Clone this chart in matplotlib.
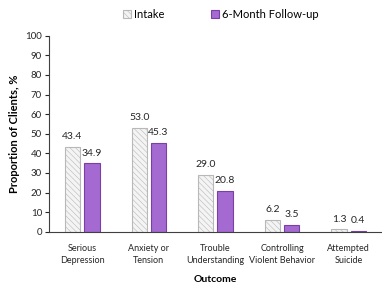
import matplotlib
matplotlib.use("Agg")
import matplotlib.pyplot as plt
import numpy as np
from matplotlib.patches import Patch

plt.rcParams['font.family'] = ['Lato', 'DejaVu Sans']
plt.rcParams['hatch.linewidth'] = 0.4
plt.rcParams['hatch.color'] = '#b0b0b0'

categories = ["Serious\nDepression", "Anxiety or\nTension", "Trouble\nUnderstanding",
              "Controlling\nViolent Behavior", "Attempted\nSuicide"]
intake = [43.4, 53.0, 29.0, 6.2, 1.3]
followup = [34.9, 45.3, 20.8, 3.5, 0.4]
series_names = ["Intake", "6-Month Follow-up"]
yticks = list(range(0, 101, 10))

fig = plt.figure(figsize=(3.82, 2.84), dpi=100)
ax = fig.add_axes([0.128, 0.184, 0.872, 0.69])

x = np.arange(len(categories))
w = 0.23
off = 0.145
b1 = ax.bar(x - off, intake, w, color='#f4f4f4', edgecolor='#b8b8b8', hatch='\\\\\\\\\\\\', linewidth=0.8)
b2 = ax.bar(x + off, followup, w, color='#a56ad2', edgecolor='#7a3fa5', linewidth=0.8)

for bars, vals in ((b1, intake), (b2, followup)):
    for r, v in zip(bars, vals):
        ax.annotate(f"{v:.1f}", (r.get_x() + r.get_width() / 2, r.get_height()),
                    xytext=(0, 4), textcoords='offset points', ha='center', va='bottom',
                    fontsize=7.5, color='#262626')

ax.set_xlim(-0.5, 4.5)
ax.set_ylim(0, 100)
ax.set_yticks(yticks)
ax.set_xticks(x)
ax.set_xticklabels(categories, fontsize=6.5, color='#262626', linespacing=1.4)
ax.tick_params(axis='x', length=0, pad=9)
ax.tick_params(axis='y', length=3, width=0.8, direction='out', labelsize=7, colors='#262626', pad=2)
for s in ['top', 'right']:
    ax.spines[s].set_visible(False)
ax.spines['left'].set_color('#404040')
ax.spines['bottom'].set_color('#404040')
ax.spines['left'].set_linewidth(0.8)
ax.spines['bottom'].set_linewidth(0.8)

ax.set_ylabel("Proportion of Clients, %", fontsize=8, fontweight='bold', labelpad=4)
ax.set_xlabel("Outcome", fontsize=7.5, fontweight='bold', labelpad=7)

handles = [Patch(facecolor='#f4f4f4', edgecolor='#b8b8b8', hatch='\\\\\\\\\\\\', linewidth=0.8),
           Patch(facecolor='#a56ad2', edgecolor='#7a3fa5', linewidth=0.8)]
fig.legend(handles, series_names, loc='center', bbox_to_anchor=(0.579, 0.95), ncol=2,
           frameon=False, fontsize=8, handlelength=0.7, handleheight=0.7, handletextpad=0.3,
           columnspacing=4.2)

fig.savefig("out.png", dpi=100)
